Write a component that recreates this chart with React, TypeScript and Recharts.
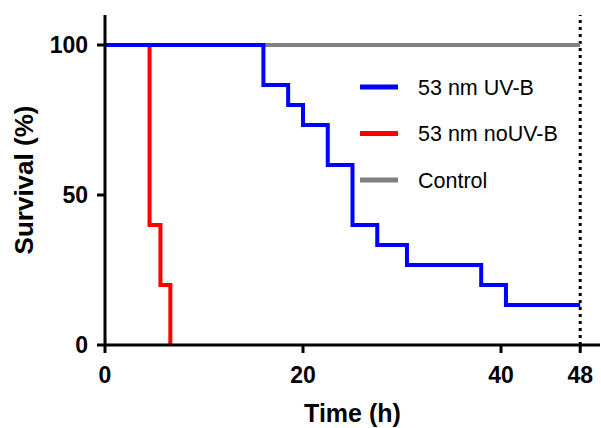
import React from 'react';
import { LineChart, Line, XAxis, YAxis, ReferenceLine } from 'recharts';

const uvbTime = [0, 16, 18.5, 20, 22.5, 25, 27.5, 30.5, 38, 40.5, 48];
const uvbSurvival = [100, 86.7, 80, 73.3, 60, 40, 33.3, 26.7, 20, 13.3, 13.3];
const noUvbTime = [0, 4.5, 5.6, 6.6];
const noUvbSurvival = [100, 40, 20, 0];
const controlTime = [0, 48];
const controlSurvival = [100, 100];
const xTicks = [0, 20, 40, 48];
const yTicks = [0, 50, 100];

const seriesNames = ['53 nm UV-B', '53 nm noUV-B', 'Control'];
const seriesColors = ['#0000ff', '#ff0000', '#808080'];

const toPoints = (xs: number[], ys: number[]) => xs.map((x, i) => ({ x, y: ys[i] }));

const uvbData = toPoints(uvbTime, uvbSurvival);
const noUvbData = toPoints(noUvbTime, noUvbSurvival);
const controlData = toPoints(controlTime, controlSurvival);

const FONT = '"Liberation Sans", Arial, Helvetica, sans-serif';

// legend drawn as an overlay so it does not shrink the plot
const LegendBox = () => (
  <svg width={230} height={150} style={{ position: 'absolute', left: 360, top: 60 }}>
    {seriesNames.map((name, i) => (
      <g key={name} transform={`translate(0, ${27 + i * 46.5})`}>
        <line x1={0} x2={38} y1={0} y2={0} stroke={seriesColors[i]} strokeWidth={5} />
        <text x={58} y={0} dy="0.36em" fontSize={21.5} fontFamily={FONT} fill="#000">
          {name}
        </text>
      </g>
    ))}
  </svg>
);

const YLabel = ({ viewBox }: any) => {
  const cx = 24;
  const cy = viewBox.y + viewBox.height / 2;
  return (
    <text
      x={cx}
      y={cy}
      transform={`rotate(-90, ${cx}, ${cy})`}
      textAnchor="middle"
      dominantBaseline="central"
      fontSize={26}
      fontWeight="bold"
      fontFamily={FONT}
      fill="#000"
    >
      Survival (%)
    </text>
  );
};

const XLabel = ({ viewBox }: any) => (
  <text
    x={viewBox.x + viewBox.width / 2}
    y={viewBox.y + 68}
    textAnchor="middle"
    dominantBaseline="central"
    fontSize={25}
    fontWeight="bold"
    fontFamily={FONT}
    fill="#000"
  >
    Time (h)
  </text>
);

const tickStyle = { fontSize: 23, fontWeight: 'bold', fill: '#000', fontFamily: FONT };

export default function App() {
  return (
    <div style={{ position: 'absolute', left: 0, top: 0, width: 601, height: 428, background: '#fff' }}>
      <LineChart width={601} height={428} margin={{ top: 15, right: 1, bottom: 0, left: 0 }}>
        <XAxis
          type="number"
          dataKey="x"
          domain={[0, 50]}
          ticks={xTicks}
          allowDataOverflow
          height={83}
          axisLine={{ stroke: '#000', strokeWidth: 3 }}
          tickLine={{ stroke: '#000', strokeWidth: 3 }}
          tickSize={8}
          tickMargin={14}
          tick={tickStyle}
          label={<XLabel />}
        />
        <YAxis
          type="number"
          dataKey="y"
          domain={[0, 110]}
          ticks={yTicks}
          allowDataOverflow
          width={105}
          axisLine={{ stroke: '#000', strokeWidth: 3 }}
          tickLine={{ stroke: '#000', strokeWidth: 3 }}
          tickSize={8}
          tickMargin={9}
          tick={tickStyle}
          label={<YLabel />}
        />
        <ReferenceLine x={48} stroke="#000" strokeWidth={3} strokeDasharray="3 4" />
        <Line
          data={controlData}
          dataKey="y"
          type="stepAfter"
          stroke={seriesColors[2]}
          strokeWidth={4}
          dot={false}
          isAnimationActive={false}
        />
        <Line
          data={noUvbData}
          dataKey="y"
          type="stepAfter"
          stroke={seriesColors[1]}
          strokeWidth={4}
          dot={false}
          isAnimationActive={false}
        />
        <Line
          data={uvbData}
          dataKey="y"
          type="stepAfter"
          stroke={seriesColors[0]}
          strokeWidth={4}
          dot={false}
          isAnimationActive={false}
        />
      </LineChart>
      <LegendBox />
    </div>
  );
}
